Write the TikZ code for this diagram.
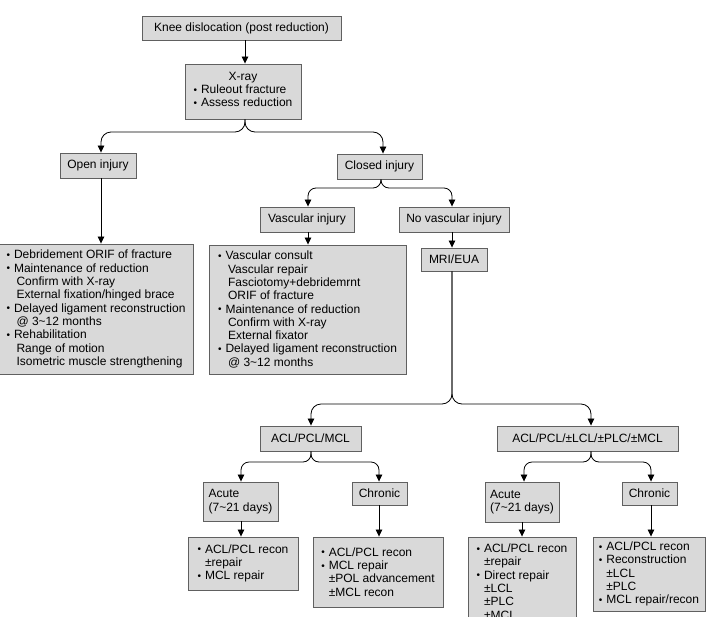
\documentclass[tikz,border=0pt]{standalone}
\usepackage{fontspec}
\setmainfont{Liberation Sans}
\usetikzlibrary{arrows.meta}
\definecolor{boxfill}{RGB}{217,217,217}
\definecolor{boxline}{RGB}{96,96,96}
\newcommand{\bu}{\makebox[7.5pt][l]{\fontsize{10}{10}\selectfont\raisebox{0.5pt}{•}}}
\newcommand{\ind}{\hspace*{7.5pt}}
\newcommand{\indb}{\hspace*{10pt}}
% box from corner (x1,y1) to (x2,y2) in pixel units
\newcommand{\bx}[6][]{\node[box,#1,minimum width={(#4)-(#2)},minimum height={(#5)-(#3)}] (#6) at ({((#2)+(#4))/2},{((#3)+(#5))/2})}
\begin{document}
\begin{tikzpicture}[x=1pt,y=-1pt,
  box/.style={draw=boxline, fill=boxfill, line width=0.9pt, inner sep=0pt, align=left,
              font=\fontsize{12}{13.3}\selectfont},
  conn/.style={draw=black, line width=0.8pt, -{Triangle[width=6.5pt,length=7pt]}},
  brace/.style={conn, rounded corners=8pt},
  bigbrace/.style={conn, rounded corners=10pt}]
\useasboundingbox (0,0) rectangle (712,616);
\clip (0,0) rectangle (712,616);
\fill[white] (0,0) rectangle (712,616);

% level 1
\bx{142}{16}{341}{40}{knee} {Knee dislocation (post reduction)};
\bx[align=center]{185}{64}{301}{119}{xray} {X-ray\\\begin{tabular}[t]{@{}l@{}}\bu Ruleout fracture\\\bu Assess reduction\end{tabular}};

% level 2
\bx{60}{153}{136}{178}{open} {Open injury};
\bx{337}{154}{422}{179}{closed} {Closed injury};

\bx{-1}{244}{193}{374}{opentext} {\bu Debridement ORIF of fracture\\
\bu Maintenance of reduction\\
\indb Confirm with X-ray\\
\indb External fixation/hinged brace\\
\bu Delayed ligament reconstruction\\
\indb @ 3\textasciitilde 12 months\\
\bu Rehabilitation\\
\indb Range of motion\\
\indb Isometric muscle strengthening};

\bx{260}{207}{354}{232}{vasc} {Vascular injury};
\bx{399}{207}{509}{232}{novasc} {No vascular injury};

\bx{209}{245}{406}{374}{vasctext} {\bu Vascular consult\\
\indb Vascular repair\\
\indb Fasciotomy+debridemrnt\\
\indb ORIF of fracture\\
\bu Maintenance of reduction\\
\indb Confirm with X-ray\\
\indb External fixator\\
\bu Delayed ligament reconstruction\\
\indb @ 3\textasciitilde 12 months};

\bx{421}{248}{487}{271}{mri} {MRI/EUA};

% ligament level
\bx{260}{426}{361}{451}{aclA} {ACL/PCL/MCL};
\bx{497}{426}{678}{451}{aclB} {ACL/PCL/±LCL/±PLC/±MCL};

\bx{203}{482}{278}{521}{acuteA} {Acute\\(7\textasciitilde 21 days)};
\bx{352}{482}{407}{505}{chronA} {Chronic};
\bx{485}{482}{559}{522}{acuteB} {Acute\\(7\textasciitilde 21 days)};
\bx{622}{482}{677}{505}{chronB} {Chronic};

\bx{188}{537}{298}{590}{tacuteA} {\bu ACL/PCL recon\\
\ind ±repair\\
\bu MCL repair};
\bx{313}{537}{443}{607}{tchronA} {\bu ACL/PCL recon\\
\bu MCL repair\\
\ind ±POL advancement\\
\ind ±MCL recon};
\bx{468}{537}{576}{626}{tacuteB} {\bu ACL/PCL recon\\
\ind ±repair\\
\bu Direct repair\\
\ind ±LCL\\
\ind ±PLC\\
\ind ±MCL};
\bx{593}{537}{705}{611}{tchronB} {\bu ACL/PCL recon\\
\bu Reconstruction\\
\ind ±LCL\\
\ind ±PLC\\
\bu MCL repair/recon};

% connectors
\draw[conn] (245,0 |- knee.south) -- (245,0 |- xray.north);
\draw[bigbrace] (245,0 |- xray.south) |- (101,132) -- (101,0 |- open.north);
\draw[bigbrace] (245,0 |- xray.south) |- (383,132) -- (383,0 |- closed.north);
\draw[conn] (101,0 |- open.south) -- (101,0 |- opentext.north);

\draw[brace] (381,0 |- closed.south) |- (308,188) -- (308,0 |- vasc.north);
\draw[brace] (381,0 |- closed.south) |- (452,188) -- (452,0 |- novasc.north);
\draw[conn] (308,0 |- vasc.south) -- (308,0 |- vasctext.north);
\draw[conn] (452,0 |- novasc.south) -- (452,0 |- mri.north);

\draw[bigbrace] (452,0 |- mri.south) |- (311,404) -- (311,0 |- aclA.north);
\draw[bigbrace] (452,0 |- mri.south) |- (591,404) -- (591,0 |- aclB.north);

\draw[brace] (311,0 |- aclA.south) |- (241,462) -- (241,0 |- acuteA.north);
\draw[brace] (311,0 |- aclA.south) |- (379,462) -- (379,0 |- chronA.north);
\draw[brace] (591,0 |- aclB.south) |- (524,462) -- (524,0 |- acuteB.north);
\draw[brace] (591,0 |- aclB.south) |- (651,462) -- (651,0 |- chronB.north);

\draw[conn] (241,0 |- acuteA.south) -- (241,0 |- tacuteA.north);
\draw[conn] (379,0 |- chronA.south) -- (379,0 |- tchronA.north);
\draw[conn] (522,0 |- acuteB.south) -- (522,0 |- tacuteB.north);
\draw[conn] (651,0 |- chronB.south) -- (651,0 |- tchronB.north);
\end{tikzpicture}
\end{document}
